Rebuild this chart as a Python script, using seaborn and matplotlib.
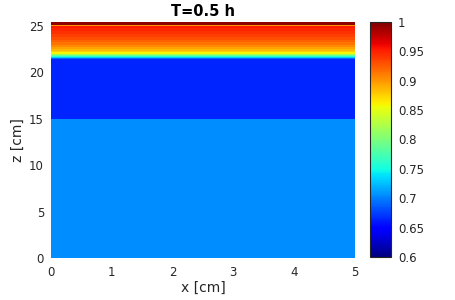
import numpy as np
import matplotlib
matplotlib.use("Agg")
import matplotlib.pyplot as plt
import seaborn as sns

# layer boundaries in z [cm] and the value in each layer (saturation-like field)
z_edges = [0.0, 15.0, 21.4, 21.5, 21.6, 21.7, 21.8, 21.9, 22.0, 22.15, 22.3,
           22.5, 22.7, 22.95, 23.2, 23.5, 23.8, 24.1, 24.4, 24.7, 24.95, 25.05, 25.4]
layer_values = [0.705, 0.665, 0.69, 0.73, 0.76, 0.79, 0.82, 0.845, 0.86, 0.875,
                0.885, 0.895, 0.905, 0.915, 0.922, 0.93, 0.937, 0.943, 0.948,
                0.953, 0.90, 0.995]
x_edges = [0.0, 5.0]
x_ticks = [0, 1, 2, 3, 4, 5]
z_ticks = [0, 5, 10, 15, 20, 25]
cbar_ticks = [0.6, 0.65, 0.7, 0.75, 0.8, 0.85, 0.9, 0.95, 1.0]

sns.set_theme(style="white")
plt.rcParams['font.family'] = ['DejaVu Sans']
text_color = '#262626'

fig = plt.figure(figsize=(4.55, 3.0), dpi=100)
ax = fig.add_axes([0.112, 0.14, 0.668, 0.787])
cax = fig.add_axes([0.813, 0.143, 0.046, 0.784])

C = np.array(layer_values).reshape(-1, 1)
mesh = ax.pcolormesh(x_edges, z_edges, C, cmap='jet', vmin=0.6, vmax=1.0, shading='flat')

ax.set_xlim(0, 5)
ax.set_ylim(0, 25.4)
ax.set_xticks(x_ticks)
ax.set_yticks(z_ticks)
for s in ax.spines.values():
    s.set_visible(False)
ax.tick_params(labelsize=8.5, colors=text_color, length=0)
ax.tick_params(axis='x', pad=6)
ax.tick_params(axis='y', pad=5)
ax.set_xlabel('x [cm]', fontsize=10, color=text_color, labelpad=1)
ax.set_ylabel('z [cm]', fontsize=10, color=text_color, labelpad=3)
ax.set_title('T=0.5 h', fontsize=10.5, fontweight='bold', color='black', pad=4)

cb = fig.colorbar(mesh, cax=cax, ticks=cbar_ticks)
cb.ax.set_yticklabels(['0.6', '0.65', '0.7', '0.75', '0.8', '0.85', '0.9', '0.95', '1'])
cb.ax.tick_params(labelsize=8.5, colors=text_color, direction='in', length=3, width=0.6, pad=5)
cb.outline.set_edgecolor('#262626')
cb.outline.set_linewidth(0.8)

fig.savefig('out.png', dpi=100)
